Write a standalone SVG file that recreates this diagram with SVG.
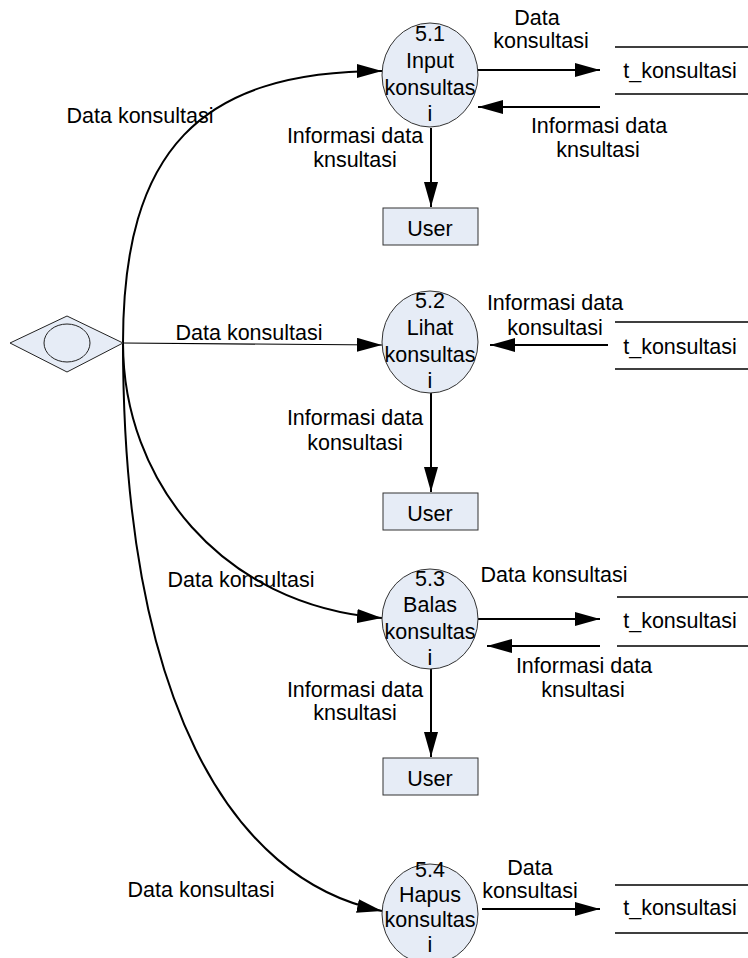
<svg xmlns="http://www.w3.org/2000/svg" width="748" height="958" viewBox="0 0 748 958">
<style>
text{font-family:"Liberation Sans",Arial,sans-serif;font-size:21.5px;fill:#000;text-anchor:middle}
.proc{fill:#E6ECF6;stroke:#333;stroke-width:1}
.ent{fill:#E6ECF6;stroke:#333;stroke-width:1}
.store{stroke:#000;stroke-width:1.3;fill:none}
.flow{stroke:#000;stroke-width:2;fill:none;marker-end:url(#ah)}
.thin{stroke:#000;stroke-width:1.2;fill:none;marker-end:url(#ah)}
</style>
<defs>
<marker id="ah" viewBox="0 0 25 14" refX="25" refY="7" markerWidth="25" markerHeight="14" markerUnits="userSpaceOnUse" orient="auto">
<path d="M0,0 L25,7 L0,14 z" fill="#000"/>
</marker>
</defs>
<rect width="748" height="958" fill="#fff"/>

<g id="connectors">
<path class="flow" d="M123,343 C123,150 200,71 382,71"/>
<path class="thin" d="M123,343 L382,345"/>
<path class="flow" d="M123,343 C123,480 220,605 382,618"/>
<path class="flow" d="M123,343 C123,700 230,880 382,911"/>
<path class="flow" d="M478,70 L600,70"/>
<path class="flow" d="M600,107 L478,107"/>
<path class="flow" d="M431,128 L431,207"/>
<path class="flow" d="M608,345 L490,345"/>
<path class="flow" d="M431,393 L431,492"/>
<path class="flow" d="M478,619 L600,619"/>
<path class="flow" d="M600,646 L487,646"/>
<path class="flow" d="M431,668 L431,757"/>
<path class="flow" d="M482,909 L600,909"/>
</g>

<g id="labels">
<text x="140" y="123">Data konsultasi</text>
<text x="537" y="25">Data</text>
<text x="541" y="48">konsultasi</text>
<text x="599" y="133">Informasi data</text>
<text x="598" y="157">knsultasi</text>
<text x="355" y="143">Informasi data</text>
<text x="355" y="167">knsultasi</text>
<text x="249" y="340">Data konsultasi</text>
<text x="555" y="310">Informasi data</text>
<text x="555" y="335">konsultasi</text>
<text x="355" y="425">Informasi data</text>
<text x="355" y="450">konsultasi</text>
<text x="241" y="587">Data konsultasi</text>
<text x="554" y="582">Data konsultasi</text>
<text x="584" y="673">Informasi data</text>
<text x="583" y="697">knsultasi</text>
<text x="355" y="697">Informasi data</text>
<text x="355" y="720">knsultasi</text>
<text x="201" y="897">Data konsultasi</text>
<text x="530" y="875">Data</text>
<text x="530" y="898">konsultasi</text>
</g>

<g id="terminator">
<polygon points="10,343 67,316 123,343 67,372" fill="#E6ECF6" stroke="#222" stroke-width="1"/>
<ellipse cx="67" cy="343" rx="23" ry="19" fill="#E6ECF6" stroke="#222" stroke-width="1"/>
</g>

<g id="p51">
<ellipse class="proc" cx="430" cy="75" rx="48" ry="52"/>
<text x="430" y="41">5.1</text>
<text x="430" y="68">Input</text>
<text x="430" y="95">konsultas</text>
<text x="430" y="121">i</text>
</g>
<g id="p52">
<ellipse class="proc" cx="430" cy="342" rx="48" ry="51"/>
<text x="430" y="308">5.2</text>
<text x="430" y="335">Lihat</text>
<text x="430" y="362">konsultas</text>
<text x="430" y="388">i</text>
</g>
<g id="p53">
<ellipse class="proc" cx="430" cy="619" rx="48" ry="50"/>
<text x="430" y="586">5.3</text>
<text x="430" y="612">Balas</text>
<text x="430" y="639">konsultas</text>
<text x="430" y="665">i</text>
</g>
<g id="p54">
<ellipse class="proc" cx="430" cy="914" rx="48" ry="50"/>
<text x="430" y="877">5.4</text>
<text x="430" y="902">Hapus</text>
<text x="430" y="927">konsultas</text>
<text x="430" y="952">i</text>
</g>

<g id="user1"><rect class="ent" x="383" y="208" width="95" height="37"/><text x="430" y="236">User</text></g>
<g id="user2"><rect class="ent" x="383" y="493" width="95" height="37"/><text x="430" y="521">User</text></g>
<g id="user3"><rect class="ent" x="383" y="758" width="95" height="37"/><text x="430" y="786">User</text></g>

<g id="store1"><path class="store" d="M615,47 H748 M615,94 H748"/><text x="680" y="78">t_konsultasi</text></g>
<g id="store2"><path class="store" d="M615,322 H748 M615,369 H748"/><text x="680" y="354">t_konsultasi</text></g>
<g id="store3"><path class="store" d="M617,597 H748 M617,646 H748"/><text x="680" y="628">t_konsultasi</text></g>
<g id="store4"><path class="store" d="M615,885 H748 M615,933 H748"/><text x="680" y="915">t_konsultasi</text></g>
</svg>
